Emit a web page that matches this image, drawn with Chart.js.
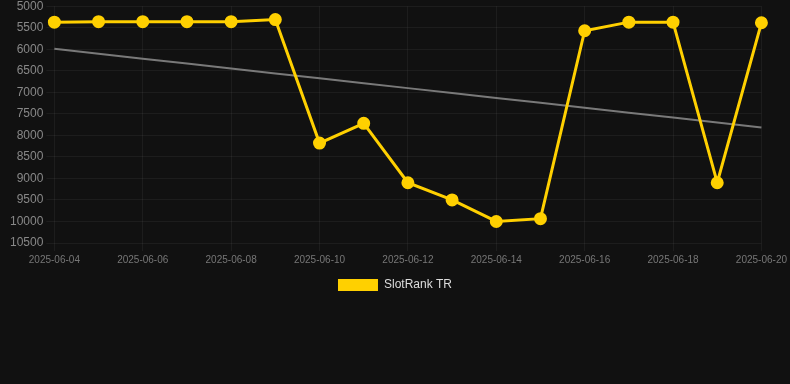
<!DOCTYPE html>
<html>
<head>
<meta charset="utf-8">
<script src="https://cdn.jsdelivr.net/npm/chart.js@4"></script>
<style>
    html, body { margin: 0; padding: 0; background: #111111; overflow: hidden; }
    #wrap { width: 790px; height: 305px; margin-top: -4px; }
</style>
</head>
<body>
<div id="wrap"><canvas id="rankChart"></canvas></div>
<script>
// Chart data
const dates = ['2025-06-04', '2025-06-05', '2025-06-06', '2025-06-07', '2025-06-08', '2025-06-09',
    '2025-06-10', '2025-06-11', '2025-06-12', '2025-06-13', '2025-06-14', '2025-06-15',
    '2025-06-16', '2025-06-17', '2025-06-18', '2025-06-19', '2025-06-20'];
const rankValues = [5370, 5360, 5360, 5360, 5360, 5310, 8180, 7720, 9100, 9500, 10000, 9935,
    5570, 5370, 5370, 9100, 5385];
const seriesName = 'SlotRank TR';
const yMin = 5000;
const yMax = 10500;
const yStep = 500;

// Linear trend through the rank values
function trendLine(values) {
    const n = values.length;
    let sx = 0, sy = 0, sxy = 0, sxx = 0;
    values.forEach((v, i) => { sx += i; sy += v; sxy += i * v; sxx += i * i; });
    const slope = (n * sxy - sx * sy) / (n * sxx - sx * sx);
    const intercept = (sy - slope * sx) / n;
    return values.map((v, i) => intercept + slope * i);
}

const ctx = document.getElementById('rankChart').getContext('2d');
new Chart(ctx, {
    type: 'line',
    data: {
        labels: dates,
        datasets: [
            {
                label: seriesName,
                data: rankValues,
                borderColor: '#ffd000',
                backgroundColor: '#ffd000',
                borderWidth: 3,
                pointRadius: 5,
                pointHoverRadius: 6,
                tension: 0
            },
            {
                label: 'trend',
                data: trendLine(rankValues),
                borderColor: 'rgba(140,140,140,0.85)',
                borderWidth: 2,
                pointRadius: 0,
                tension: 0
            }
        ]
    },
    options: {
        responsive: true,
        maintainAspectRatio: false,
        animation: false,
        plugins: {
            legend: {
                position: 'bottom',
                labels: {
                    color: '#dddddd',
                    boxWidth: 40,
                    boxHeight: 12,
                    font: { size: 12 },
                    filter: item => item.text === seriesName,
                    generateLabels: chart => Chart.defaults.plugins.legend.labels.generateLabels(chart)
                        .map(item => Object.assign(item, { lineWidth: 0 }))
                }
            },
            tooltip: { enabled: false }
        },
        scales: {
            y: {
                reverse: true,
                min: yMin,
                max: yMax,
                afterFit: scale => { scale.width += 7; },
                ticks: {
                    stepSize: yStep,
                    color: '#888888',
                    font: { size: 12 },
                    callback: value => String(value)
                },
                grid: { color: 'rgba(255,255,255,0.05)' },
                border: { display: false }
            },
            x: {
                ticks: {
                    color: '#777777',
                    font: { size: 10 },
                    maxRotation: 0,
                    autoSkip: true
                },
                grid: { color: 'rgba(255,255,255,0.05)' },
                border: { display: false }
            }
        }
    }
});
</script>
</body>
</html>
